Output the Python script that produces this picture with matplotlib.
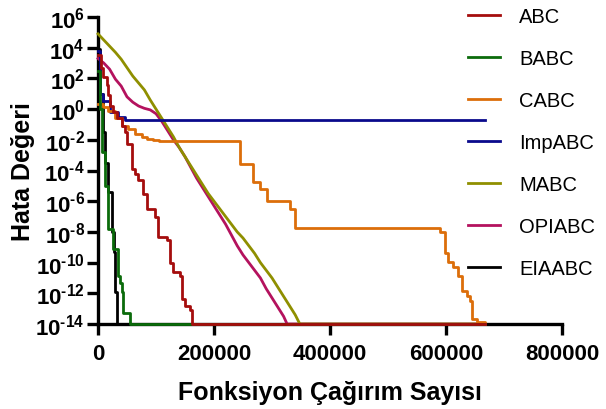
import numpy as np
import matplotlib
matplotlib.use("Agg")
import matplotlib.pyplot as plt
from matplotlib.ticker import FixedLocator, FuncFormatter

plt.rcParams['font.family'] = ['Liberation Sans', 'DejaVu Sans']
plt.rcParams['mathtext.fontset'] = 'custom'
plt.rcParams['mathtext.rm'] = 'Liberation Sans:bold'
plt.rcParams['mathtext.it'] = 'Liberation Sans:bold'
plt.rcParams['mathtext.bf'] = 'Liberation Sans:bold'

# convergence curves, y stored as log10 of the error value
abc_x = [0, 5000, 9000, 15000, 18000, 21000, 26000, 33000, 41000, 46000, 50000, 58000,
         64000, 69000, 77000, 84000, 98000, 103000, 119000, 124000, 129000, 141000,
         145000, 150000, 159000, 162000, 667000]
abc_log = [3.5, 2.7, 2.1, 1.6, 0.9, 0.2, -0.2, -0.6, -1.1, -1.5, -2.3, -3.9,
           -4.2, -4.6, -5.5, -6.5, -7.0, -8.3, -8.5, -10.0, -10.6, -10.9,
           -12.4, -12.8, -13.1, -14, -14]

babc_x = [0, 3000, 7000, 12000, 17000, 26000, 34000, 38000, 41000, 43000, 55000, 667000]
babc_log = [2.5, 0.0, -2.8, -5.0, -7.8, -9.1, -10.9, -11.3, -11.9, -13.3, -14, -14]

cabc_x = [0, 8600, 17000, 29000, 41000, 52000, 64000, 76000, 84000, 95000, 105000,
          245000, 268000, 279000, 291000, 331000, 340000, 590000, 598000, 603000,
          612000, 621000, 628000, 636000, 641000, 645000, 653000, 667000]
cabc_log = [0.33, 0.13, -0.1, -0.6, -1.1, -1.3, -1.6, -1.8, -1.95, -2.02, -2.06,
            -3.6, -4.75, -5.2, -6.0, -6.5, -7.75, -8.0, -9.4, -9.96,
            -10.3, -10.9, -11.85, -12.2, -12.5, -13.7, -13.9, -14]

impabc_x = [0, 4000, 9000, 20000, 34000, 46000, 667000]
impabc_log = [3.8, 1.0, 0.5, -0.2, -0.5, -0.69, -0.69]

mabc_x = [0, 10000, 20000, 30000, 40000, 50000, 60000, 70000, 80000, 90000, 100000,
          110000, 120000, 130000, 140000, 150000, 160000, 170000, 180000, 190000,
          200000, 210000, 220000, 230000, 240000, 250000, 260000, 270000, 280000,
          290000, 300000, 310000, 320000, 330000, 340000, 348000, 667000]
mabc_log = [4.9, 4.5, 4.1, 3.7, 3.25, 2.7, 2.15, 1.7, 1.25, 0.6, 0.0,
            -0.6, -1.2, -1.8, -2.5, -3.1, -3.7, -4.3, -4.9, -5.5,
            -6.0, -6.5, -7.0, -7.5, -8.0, -8.4, -8.9, -9.4, -10.0,
            -10.5, -11.0, -11.6, -12.2, -12.8, -13.4, -14, -14]

opiabc_x = [0, 10000, 20000, 30000, 40000, 50000, 60000, 70000, 80000, 90000, 100000,
            110000, 120000, 130000, 140000, 150000, 160000, 170000, 180000, 190000,
            200000, 210000, 220000, 230000, 240000, 250000, 260000, 270000, 280000,
            290000, 300000, 310000, 320000, 326000, 667000]
opiabc_log = [3.3, 3.0, 2.6, 1.95, 1.5, 0.8, 0.45, 0.2, 0.05, -0.05, -0.3,
              -0.8, -1.4, -2.0, -2.5, -3.1, -3.8, -4.5, -5.1, -5.7,
              -6.3, -6.9, -7.5, -8.2, -8.9, -9.5, -10.0, -10.5, -11.0,
              -11.7, -12.3, -12.9, -13.5, -14, -14]

eiaabc_x = [0, 4000, 8000, 12000, 17000, 24000, 27000, 29000, 33000, 667000]
eiaabc_log = [3.9, 1.0, -1.5, -3.5, -5.4, -8.0, -9.3, -11.9, -14, -14]

names = ['ABC', 'BABC', 'CABC', 'ImpABC', 'MABC', 'OPIABC', 'EIAABC']
xs = [abc_x, babc_x, cabc_x, impabc_x, mabc_x, opiabc_x, eiaabc_x]
ys = [abc_log, babc_log, cabc_log, impabc_log, mabc_log, opiabc_log, eiaabc_log]
colors = ['#a50d0d', '#0b6b0b', '#dc6e0a', '#0a0a8c', '#8f8f00', '#b4125e', '#000000']
# MABC / OPIABC have very fine steps, plain lines look closer at this size
styles = ['steps-post', 'steps-post', 'steps-post', 'steps-post', 'default', 'default', 'steps-post']

fig = plt.figure(figsize=(6.06, 4.10), dpi=100)
ax = fig.add_axes([98/606, 85/410, 464/606, 307/410])

# first series drawn on top (as in the original)
for i, (name, x, y, c, ds) in enumerate(zip(names, xs, ys, colors, styles)):
    ax.plot(x, 10.0**np.array(y), drawstyle=ds, color=c, lw=2.0,
            label=name, zorder=20 - i, clip_on=False)

ax.set_yscale('log')
ax.set_xlim(0, 800000)
ax.set_ylim(1e-14, 1e6)


def exp_label(v, p):
    k = int(round(np.log10(v)))
    if k < 0:
        return r'$10^{\text{-}%d}$' % (-k)
    return r'$10^{%d}$' % k


ax.yaxis.set_major_locator(FixedLocator([10.0**k for k in range(-14, 7, 2)]))
ax.yaxis.set_minor_locator(FixedLocator([]))
ax.yaxis.set_major_formatter(FuncFormatter(exp_label))
ax.xaxis.set_major_locator(FixedLocator([0, 200000, 400000, 600000, 800000]))
ax.xaxis.set_major_formatter(FuncFormatter(lambda v, p: '%d' % v))

for s in ['top', 'right']:
    ax.spines[s].set_visible(False)
for s in ['left', 'bottom']:
    ax.spines[s].set_linewidth(2.4)

ax.tick_params(axis='both', which='major', length=8, width=2.4, direction='out',
               labelsize=16)
ax.tick_params(axis='y', pad=1.5)
ax.tick_params(axis='x', pad=6)
for lab in ax.get_xticklabels():
    lab.set_fontweight('bold')

ax.set_xlabel('Fonksiyon Çağırım Sayısı', fontsize=18, fontweight='bold')
ax.xaxis.set_label_coords(0.5, -(381 - 325) / 307)
ax.set_ylabel('Hata Değeri', fontsize=18, fontweight='bold')
ax.yaxis.set_label_coords(-(98 - 35) / 464, 0.5)

leg = ax.legend(loc='upper left', bbox_to_anchor=(460/606, 1.0), bbox_transform=fig.transFigure,
                frameon=False, fontsize=14.5, handlelength=1.6, handletextpad=0.95,
                labelspacing=1.14, borderaxespad=0)
for h in leg.get_lines():
    h.set_linewidth(2.0)

fig.savefig('out.png', dpi=100)
